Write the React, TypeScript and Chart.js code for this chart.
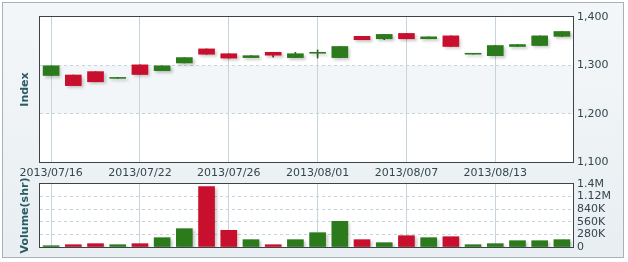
import React, { useEffect, useRef } from "react";
import { Chart, registerables } from "chart.js";

Chart.register(...registerables);

const dates = [
  "2013/07/16", "2013/07/17", "2013/07/18", "2013/07/19", "2013/07/22", "2013/07/23",
  "2013/07/24", "2013/07/25", "2013/07/26", "2013/07/29", "2013/07/30", "2013/07/31",
  "2013/08/01", "2013/08/02", "2013/08/05", "2013/08/06", "2013/08/07", "2013/08/08",
  "2013/08/09", "2013/08/12", "2013/08/13", "2013/08/14", "2013/08/15", "2013/08/16",
];
const opens = [1279, 1280, 1287, 1273, 1301, 1289, 1305, 1334, 1324, 1316, 1327, 1316, 1325, 1316, 1360, 1355, 1366, 1355, 1361, 1323, 1320, 1339, 1341, 1360];
const closes = [1299, 1258, 1266, 1275, 1281, 1299, 1316, 1323, 1315, 1320, 1321, 1324, 1327, 1339, 1353, 1364, 1355, 1359, 1339, 1325, 1341, 1343, 1361, 1370];
const highs = [1299, 1280, 1287, 1275, 1301, 1299, 1316, 1334, 1324, 1320, 1327, 1327, 1332, 1339, 1360, 1364, 1366, 1359, 1361, 1325, 1341, 1343, 1361, 1370];
const lows = [1279, 1258, 1266, 1273, 1281, 1289, 1305, 1323, 1315, 1316, 1317, 1316, 1315, 1316, 1353, 1353, 1355, 1355, 1339, 1323, 1320, 1339, 1341, 1360];
const volumes = [29000, 51000, 74000, 51000, 74000, 207000, 407000, 1345000, 370000, 163000, 51000, 163000, 318000, 570000, 163000, 96000, 251000, 207000, 229000, 51000, 74000, 140000, 140000, 163000];
const indexTicks = [1100, 1200, 1300, 1400];
const volumeTicks = [0, 280000, 560000, 840000, 1120000, 1400000];

const GREEN = "#2b7a1c";
const RED = "#c8102e";
const TICK_COLOR = "#33474d";
const TITLE_COLOR = "#2a5b64";
const GRID_COLOR = "#c6d4dc";
const FONT = "'DejaVu Sans', Verdana, sans-serif";

const colors = opens.map((o, i) => (closes[i] >= o ? GREEN : RED));

const shadowPlugin = {
  id: "shadowPlugin",
  beforeDatasetDraw(chart: any, args: any) {
    const ds = chart.data.datasets[args.index];
    if (ds.shadow) {
      const ctx = chart.ctx;
      ctx.save();
      ctx.shadowColor = "rgba(0,0,0,0.22)";
      ctx.shadowBlur = 3;
      ctx.shadowOffsetX = 2;
      ctx.shadowOffsetY = 2;
    }
  },
  afterDatasetDraw(chart: any, args: any) {
    const ds = chart.data.datasets[args.index];
    if (ds.shadow) chart.ctx.restore();
  },
};

function makeBgPlugin(band: [number, number] | null) {
  return {
    id: "bgPlugin",
    beforeDraw(chart: any) {
      const { ctx, chartArea } = chart;
      const { left, top, right, bottom } = chartArea;
      ctx.save();
      ctx.fillStyle = "#ffffff";
      ctx.fillRect(left, top, right - left, bottom - top);
      if (band) {
        const ys = chart.scales.y;
        const y1 = ys.getPixelForValue(band[1]);
        const y2 = ys.getPixelForValue(band[0]);
        ctx.fillStyle = "#f2f6f8";
        ctx.fillRect(left, y1, right - left, y2 - y1);
      }
      ctx.restore();
    },
    afterDraw(chart: any) {
      const { ctx, chartArea } = chart;
      const l = Math.round(chartArea.left) - 0.5;
      const t = Math.round(chartArea.top) - 0.5;
      const r = Math.round(chartArea.right) + 0.5;
      const b = Math.round(chartArea.bottom) + 0.5;
      ctx.save();
      ctx.strokeStyle = "#3d4346";
      ctx.lineWidth = 1;
      ctx.strokeRect(l, t, r - l, b - t);
      ctx.restore();
    },
  };
}

function xScale(showLabels: boolean, height: number) {
  return {
    type: "category" as const,
    offset: true,
    grid: {
      offset: false,
      drawTicks: false,
      color: (ctx: any) => (ctx.index % 4 === 0 ? GRID_COLOR : "transparent"),
    },
    border: { display: false },
    ticks: {
      display: showLabels,
      autoSkip: false,
      maxRotation: 0,
      padding: 5,
      color: TICK_COLOR,
      font: { family: FONT, size: 11 },
      callback: (_v: any, i: number) => (i % 4 === 0 ? dates[i] : ""),
    },
    afterFit: (s: any) => {
      s.height = height;
    },
  };
}

function leftTitleAxis(text: string) {
  return {
    type: "linear" as const,
    position: "left" as const,
    grid: { display: false },
    border: { display: false },
    ticks: { display: false },
    title: {
      display: true,
      text,
      color: TITLE_COLOR,
      font: { family: FONT, size: 11, weight: "bold" as const },
      padding: { top: 19, bottom: 0 },
    },
    afterFit: (s: any) => {
      s.width = 40;
    },
  };
}

function rightAxis(min: number, max: number, tickVals: number[], fmt: (v: number) => string) {
  return {
    type: "linear" as const,
    position: "right" as const,
    min,
    max,
    afterBuildTicks: (s: any) => {
      s.ticks = tickVals.map((v) => ({ value: v }));
    },
    grid: {
      drawTicks: false,
      color: (ctx: any) =>
        ctx.tick && (ctx.tick.value === min || ctx.tick.value === max) ? "transparent" : GRID_COLOR,
    },
    border: { display: false, dash: [3, 3] },
    ticks: {
      autoSkip: false,
      padding: 4,
      color: TICK_COLOR,
      font: { family: FONT, size: 11 },
      callback: (v: any) => fmt(Number(v)),
    },
    afterFit: (s: any) => {
      s.width = 55;
    },
  };
}

export default function App() {
  const topRef = useRef<HTMLCanvasElement>(null);
  const botRef = useRef<HTMLCanvasElement>(null);

  useEffect(() => {
    const priceChart = new Chart(topRef.current!, {
      type: "bar",
      data: {
        labels: dates,
        datasets: [
          {
            data: lows.map((l, i) => [l, highs[i]]) as any,
            backgroundColor: colors.map((c) => (c === GREEN ? "#3a5a30" : "#7a2030")),
            barThickness: 1,
            grouped: false,
            order: 2,
            yAxisID: "y",
          } as any,
          {
            data: opens.map((o, i) => [o, closes[i]]) as any,
            backgroundColor: colors,
            barThickness: 16,
            grouped: false,
            order: 1,
            yAxisID: "y",
            shadow: true,
          } as any,
        ],
      },
      options: {
        responsive: false,
        animation: false,
        layout: { padding: { top: 17, left: 0, right: 0, bottom: 0 } },
        plugins: { legend: { display: false }, tooltip: { enabled: false } },
        scales: {
          x: xScale(true, 18),
          yl: leftTitleAxis("Index"),
          y: rightAxis(1100, 1400, indexTicks, (v) => v.toLocaleString("en-US")),
        } as any,
      },
      plugins: [shadowPlugin, makeBgPlugin([1200, 1300])],
    });

    const volChart = new Chart(botRef.current!, {
      type: "bar",
      data: {
        labels: dates,
        datasets: [
          {
            data: volumes,
            backgroundColor: colors,
            barThickness: 16,
            yAxisID: "y",
            shadow: true,
          } as any,
        ],
      },
      options: {
        responsive: false,
        animation: false,
        layout: { padding: { top: 14, left: 0, right: 0, bottom: 0 } },
        plugins: { legend: { display: false }, tooltip: { enabled: false } },
        scales: {
          x: xScale(false, 15),
          yl: leftTitleAxis("Volume(shr)"),
          y: rightAxis(0, 1400000, volumeTicks, (v) =>
            v === 0 ? "0" : v >= 1000000 ? `${v / 1000000}M` : `${v / 1000}K`
          ),
        } as any,
      },
      plugins: [shadowPlugin, makeBgPlugin(null)],
    });

    return () => {
      priceChart.destroy();
      volChart.destroy();
    };
  }, []);

  return (
    <div style={{ position: "absolute", left: 0, top: 0, width: 628, height: 262, overflow: "hidden" }}>
      <div
        style={{
          position: "absolute",
          left: 2,
          top: 2,
          width: 620,
          height: 254,
          border: "1px solid #a7b1b6",
          background: "linear-gradient(#f4f7f9, #e8eef2)",
        }}
      />
      <canvas ref={topRef} width={628} height={180} style={{ position: "absolute", left: 0, top: 0 }} />
      <canvas ref={botRef} width={628} height={92} style={{ position: "absolute", left: 0, top: 170 }} />
    </div>
  );
}
